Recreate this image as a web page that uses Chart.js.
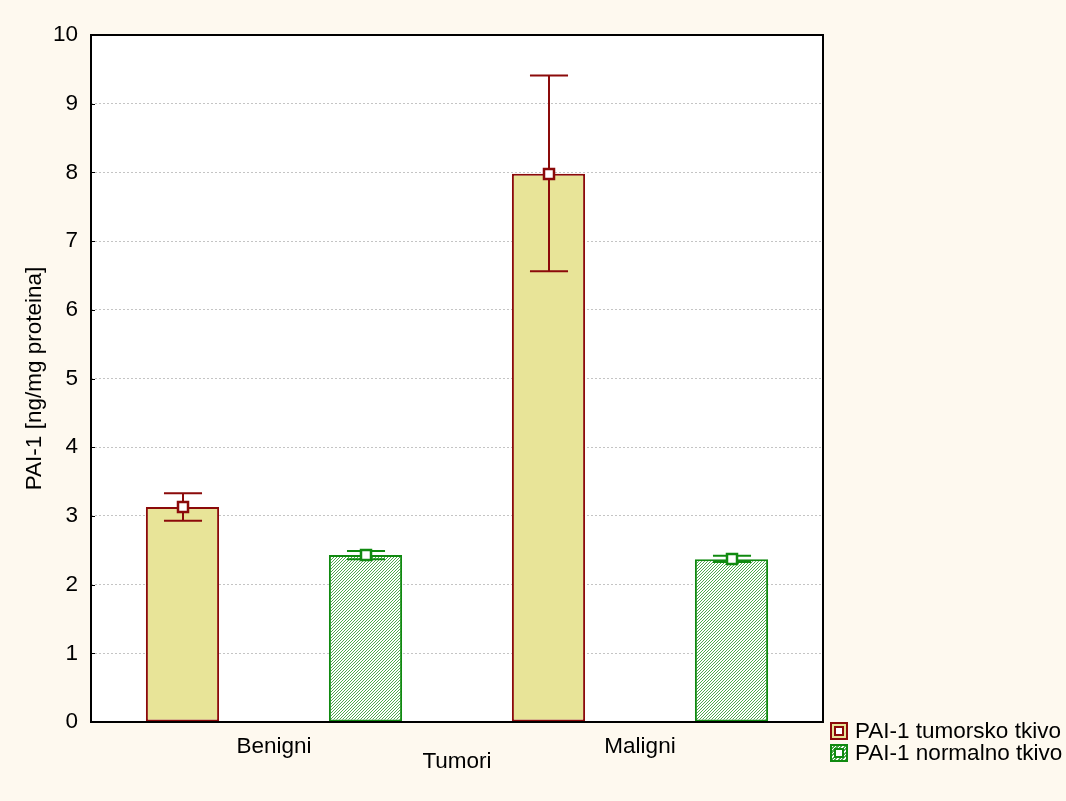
<!DOCTYPE html>
<html>
<head>
<meta charset="utf-8">
<script src="https://cdn.jsdelivr.net/npm/chart.js@4.4.1/dist/chart.umd.min.js"></script>
<style>
  html, body { margin: 0; padding: 0; background: #FEF9EF; }
  #wrap { position: relative; width: 1066px; height: 801px; }
  canvas { display: block; }
  .legend { position: absolute; left: 830px; top: 720px; font: 22.5px "Liberation Sans", Arial, sans-serif; color: #000; }
  .row { display: flex; align-items: center; height: 22px; }
  .box { width: 14px; height: 14px; border: 2.5px solid; position: relative; margin-right: 7px; box-sizing: content-box; }
  .box i { position: absolute; left: 2px; top: 2px; width: 6px; height: 6px; border: 2px solid; background: #fff; }
</style>
</head>
<body>
<div id="wrap">
  <canvas id="c" width="1066" height="801"></canvas>
  <div class="legend">
    <div class="row"><span class="box" style="border-color:#8B0A0A;background:#E8E498"><i style="border-color:#8B0A0A"></i></span>PAI-1 tumorsko tkivo</div>
    <div class="row"><span class="box" style="border-color:#108A10;background:repeating-linear-gradient(135deg,#fff 0 1px,#4FA84F 1px 2.5px)"><i style="border-color:#108A10"></i></span>PAI-1 normalno tkivo</div>
  </div>
</div>
<script>
// values
const categories = ['Benigni', 'Maligni'];
const tumorMean = [3.13, 7.98];
const tumorLow = [2.93, 6.56];
const tumorHigh = [3.33, 9.41];
const normalMean = [2.43, 2.37];
const normalLow = [2.37, 2.33];
const normalHigh = [2.49, 2.42];
const yTicks = [0, 1, 2, 3, 4, 5, 6, 7, 8, 9, 10];

const FONT = "'Liberation Sans', Arial, sans-serif";
const RED = '#8B0A0A';
const GREEN = '#108A10';

// diagonal hatch for the normal tissue bars
function hatch() {
  const p = document.createElement('canvas');
  p.width = 3; p.height = 3;
  const g = p.getContext('2d');
  g.fillStyle = '#fff';
  g.fillRect(0, 0, 3, 3);
  g.fillStyle = '#4FA84F';
  g.fillRect(2, 0, 1, 1);
  g.fillRect(1, 1, 1, 1);
  g.fillRect(0, 2, 1, 1);
  return g.createPattern(p, 'repeat');
}

const errors = [
  { low: tumorLow, high: tumorHigh, color: RED },
  { low: normalLow, high: normalHigh, color: GREEN }
];

const errorBars = {
  id: 'errorBars',
  afterDatasetsDraw(chart) {
    const ctx = chart.ctx;
    const y = chart.scales.y;
    errors.forEach((e, di) => {
      const meta = chart.getDatasetMeta(di);
      meta.data.forEach((bar, i) => {
        const x = Math.round(bar.x);
        const yl = y.getPixelForValue(e.low[i]);
        const yh = y.getPixelForValue(e.high[i]);
        const cap = bar.width * 0.26;
        ctx.save();
        ctx.strokeStyle = e.color;
        ctx.lineWidth = 2;
        ctx.beginPath();
        ctx.moveTo(x, yl); ctx.lineTo(x, yh);
        ctx.moveTo(x - cap, yl); ctx.lineTo(x + cap, yl);
        ctx.moveTo(x - cap, yh); ctx.lineTo(x + cap, yh);
        ctx.stroke();
        // mean marker
        const ym = Math.round(bar.y);
        ctx.fillStyle = '#fff';
        ctx.fillRect(x - 5, ym - 5, 10, 10);
        ctx.lineWidth = 2.5;
        ctx.strokeRect(x - 5, ym - 5, 10, 10);
        ctx.restore();
      });
    });
  }
};

const frame = {
  id: 'frame',
  beforeDraw(chart) {
    const a = chart.chartArea;
    const ctx = chart.ctx;
    ctx.save();
    ctx.fillStyle = '#FEF9EF';
    ctx.fillRect(0, 0, chart.width, chart.height);
    ctx.fillStyle = '#fff';
    ctx.fillRect(a.left, a.top, a.right - a.left, a.bottom - a.top);
    ctx.restore();
  },
  afterDraw(chart) {
    const a = chart.chartArea;
    const ctx = chart.ctx;
    const y = chart.scales.y;
    ctx.save();
    ctx.strokeStyle = '#000';
    ctx.lineWidth = 2;
    ctx.strokeRect(a.left, a.top, a.right - a.left, a.bottom - a.top);
    ctx.lineWidth = 1;
    ctx.beginPath();
    y.ticks.forEach(t => {
      const py = Math.round(y.getPixelForValue(t.value)) + 0.5;
      ctx.moveTo(a.left, py); ctx.lineTo(a.left + 4, py);
    });
    ctx.stroke();
    ctx.restore();
  }
};

new Chart(document.getElementById('c'), {
  type: 'bar',
  data: {
    labels: categories,
    datasets: [
      {
        label: 'PAI-1 tumorsko tkivo',
        data: tumorMean,
        backgroundColor: '#E8E498',
        borderColor: RED,
        borderWidth: 2,
        borderSkipped: false
      },
      {
        label: 'PAI-1 normalno tkivo',
        data: normalMean,
        backgroundColor: hatch(),
        borderColor: GREEN,
        borderWidth: 2,
        borderSkipped: false
      }
    ]
  },
  options: {
    responsive: false,
    animation: false,
    layout: { padding: { top: 35, right: 243, left: 0, bottom: 0 } },
    categoryPercentage: 1.0,
    barPercentage: 0.4,
    plugins: { legend: { display: false }, tooltip: { enabled: false } },
    scales: {
      x: {
        grid: { display: false, drawTicks: false },
        border: { display: false },
        ticks: { color: '#000', font: { family: FONT, size: 22.5 }, padding: 11 },
        title: { display: true, text: 'Tumori', color: '#000', font: { family: FONT, size: 22.5 }, padding: { top: 0, bottom: 26 } },
        afterFit(s) { s.height = 79; }
      },
      y: {
        min: 0,
        max: 10,
        afterBuildTicks(s) { s.ticks = yTicks.map(v => ({ value: v })); },
        grid: { color: '#C4C4C4', lineWidth: 1, drawTicks: false },
        border: { display: false, dash: [2, 2] },
        ticks: { color: '#000', font: { family: FONT, size: 22.5 }, padding: 13 },
        title: { display: true, text: 'PAI-1 [ng/mg proteina]', color: '#000', font: { family: FONT, size: 22.5 }, padding: { top: 21, bottom: 0 } },
        afterFit(s) { s.width = 91; }
      }
    }
  },
  plugins: [frame, errorBars]
});
</script>
</body>
</html>
